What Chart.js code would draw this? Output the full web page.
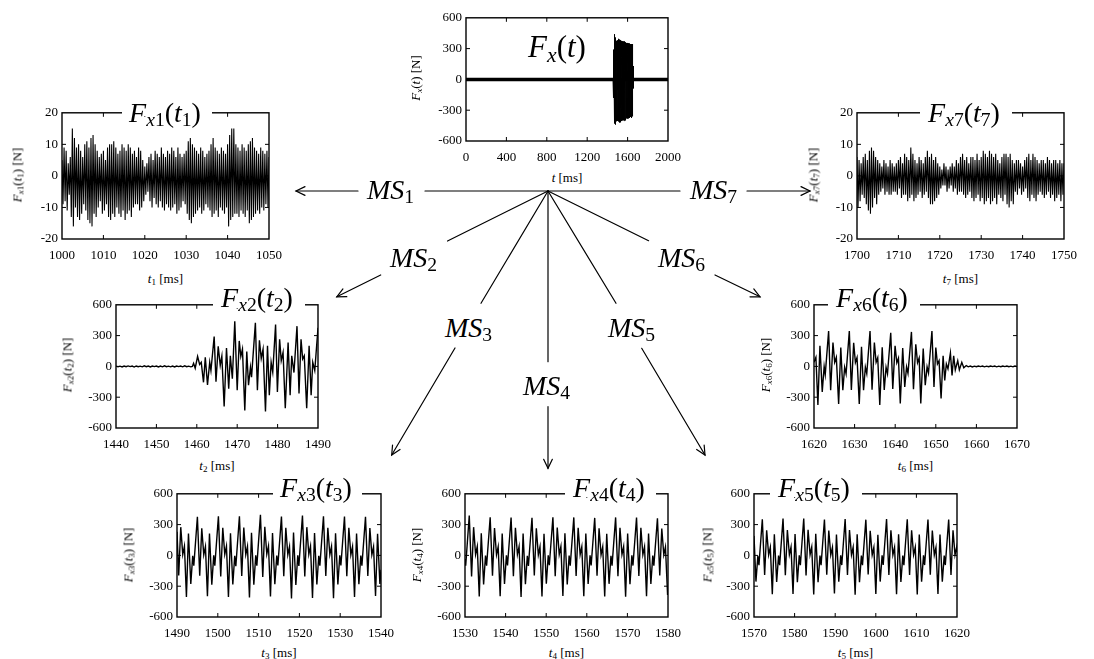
<!DOCTYPE html>
<html><head><meta charset="utf-8">
<script src="https://cdn.jsdelivr.net/npm/chart.js@4.4.1/dist/chart.umd.min.js"></script>
<style>
html,body{margin:0;padding:0;background:#fff;font-family:'Liberation Serif',serif;}
#wrap{position:relative;width:1094px;height:659px;overflow:hidden;background:#fff;font-family:'Liberation Serif',serif;color:#000;}
#wrap canvas{position:absolute;}
.lab{position:absolute;white-space:nowrap;line-height:1;font-family:'Liberation Serif',serif;}
.lab i{font-family:'Liberation Serif',serif;font-style:italic;}
.lab sub{font-size:0.7em;vertical-align:baseline;position:relative;top:0.25em;line-height:0;}
.ax{font-size:13px;transform:translate(-50%,-50%);}
.ay{font-size:13px;transform:translate(-50%,-50%) rotate(-90deg);}
.big{transform:translateX(-50%);}
.gap{position:absolute;background:#fff;}
svg{position:absolute;left:0;top:0;}
</style>
</head><body>
<div id="wrap"></div>
<script>
// ---------------- data ----------------
const fx1Start = 1000, fx1Step = 0.25;
const fx1 = [
5,-9,9,-8, 8,-11,4,-6, 6,-13,15,-16, 12,-10,9,-13, 10,-14,8,-12,
6,-9,10,-11, 11,-14,9,-15, 12,-16,13,-12, 10,-13,8,-10, 6,-8,7,-12,
8,-11,5,-9, 9,-13,10,-14, 10,-12,11,-13, 9,-10,7,-12, 8,-13,10,-11,
9,-14,8,-12, 10,-11,9,-13, 7,-10,8,-9, 6,-9,9,-11, 8,-10,5,-8,
3,-6,4,-5, 6,-8,7,-10, 5,-7,8,-9, 7,-10,6,-8, 9,-10,7,-11,
6,-9,8,-10, 7,-11,9,-10, 8,-9,6,-12, 9,-11,7,-10, 6,-8,7,-9,
8,-12,11,-14, 12,-15,10,-13, 9,-12,8,-11, 7,-10,9,-12, 8,-11,6,-9,
7,-10,8,-11, 10,-13,12,-12, 9,-11,8,-13, 7,-10,9,-11, 8,-12,7,-10,
10,-16,13,-14, 15,-13,15,-12, 10,-12,9,-13, 8,-11,10,-12, 9,-13,8,-11,
10,-15,11,-14, 12,-13,9,-12, 8,-11,7,-12, 9,-10,8,-11, 7,-9,8,-10,
6];
const fx7Start = 1700, fx7Step = 0.25;
const fx7 = [
6,-10,5,-8, 4,-6,6,-7, 7,-9,5,-11, 8,-12,9,-10, 8,-7,6,-9,
5,-6,4,-5, 3,-4,5,-6, 4,-5,3,-6, 5,-6,4,-5, 3,-5,4,-6,
5,-4,6,-7, 4,-6,7,-6, 6,-8,5,-7, 9,-6,7,-8, 5,-7,4,-6,
6,-5,5,-7, 4,-6,6,-5, 8,-7,6,-9, 7,-9,5,-8, 6,-7,4,-6,
3,-4,2,-3, 4,-3,3,-5, 2,-4,3,-3, 4,-5,3,-4, 5,-6,4,-5,
6,-5,7,-6, 5,-7,6,-6, 4,-5,6,-7, 6,-8,5,-7, 7,-6,5,-8,
6,-7,8,-9, 7,-8,6,-7, 8,-9,7,-8, 6,-7,7,-9, 5,-6,4,-7,
6,-8,7,-6, 7,-9,6,-10, 7,-8,5,-9, 4,-5,5,-6, 5,-4,4,-6,
3,-5,5,-4, 6,-7,7,-8, 5,-6,7,-7, 6,-8,5,-6, 4,-5,5,-6,
5,-7,4,-6, 6,-5,5,-7, 4,-6,5,-8, 5,-7,4,-6, 5,-8,4,-6,
4];
const fx2 = [
[1440,3],[1440.5,-4],[1441,2],[1441.5,-5],[1442,4],[1442.5,-3],[1443,5],[1443.5,-2],[1444,3],[1444.5,-6],
[1445,4],[1445.5,-3],[1446,2],[1446.5,-4],[1447,5],[1447.5,-3],[1448,4],[1448.5,-5],[1449,3],[1449.5,-2],
[1450,4],[1450.5,-5],[1451,3],[1451.5,-4],[1452,6],[1452.5,-3],[1453,2],[1453.5,-4],[1454,3],[1454.5,-5],
[1455,4],[1455.5,-2],[1456,3],[1456.5,-4],[1457,5],[1457.5,-3],[1458,2],[1458.5,-4],
[1458.9,0],[1459.2,30],[1459.6,-18],[1460.2,98],[1460.7,20],[1461.1,40],[1461.66,-155],[1462.1,88],[1462.65,-180],[1463.2,40],[1463.5,-40],
[1464.3,290],[1464.75,-150],[1465.3,195],[1465.8,10],[1466.2,100],[1466.77,-390],[1467.35,180],[1467.9,-218],[1468.3,104],[1468.8,-120],
[1469.4,440],[1470.0,-232],[1470.5,248],[1470.9,98],[1471.3,168],[1471.88,-430],[1472.37,145],[1472.8,-184],[1473.28,-8],[1473.55,-104],
[1474.5,424],[1475.0,-232],[1475.5,254],[1475.95,78],[1476.4,168],[1477.0,-440],[1477.5,200],[1477.95,-280],[1478.4,40],[1478.8,-56],
[1479.5,408],[1479.95,-248],[1480.5,264],[1480.9,56],[1481.35,136],[1481.9,-408],[1482.6,232],[1483.1,-280],[1483.5,104],[1484.05,-60],
[1484.8,392],[1485.3,-264],[1485.8,264],[1486.2,72],[1486.6,104],[1487.2,-408],[1487.8,200],[1488.3,-280],[1488.7,40],[1489.2,-40],
[1490.0,376]];
const fx3 = [
[1490.0,230],[1490.42,-196],[1490.92,275],[1491.41,8],[1491.82,90],[1492.31,-404],[1492.81,212],[1493.38,-278],[1493.85,-5],[1494.12,-100],
[1495.0,376],[1495.57,-199],[1496.07,265],[1496.56,5],[1496.97,85],[1497.46,-398],[1497.96,212],[1498.53,-286],[1499.0,0],[1499.27,-100],
[1500.15,380],[1500.72,-205],[1501.22,270],[1501.71,10],[1502.12,90],[1502.61,-405],[1503.11,215],[1503.68,-282],[1504.15,-3],[1504.42,-105],
[1505.3,382],[1505.87,-200],[1506.37,272],[1506.86,8],[1507.27,88],[1507.76,-410],[1508.26,220],[1508.83,-285],[1509.3,0],[1509.57,-100],
[1510.45,395],[1511.02,-210],[1511.52,278],[1512.01,12],[1512.42,92],[1512.91,-400],[1513.41,218],[1513.98,-280],[1514.45,-2],[1514.72,-98],
[1515.6,378],[1516.17,-202],[1516.67,268],[1517.16,6],[1517.57,86],[1518.06,-420],[1518.56,222],[1519.13,-288],[1519.6,0],[1519.87,-102],
[1520.75,388],[1521.32,-206],[1521.82,275],[1522.31,10],[1522.72,90],[1523.21,-415],[1523.71,218],[1524.28,-284],[1524.75,-4],[1525.02,-100],
[1525.9,382],[1526.47,-200],[1526.97,270],[1527.46,8],[1527.87,88],[1528.36,-418],[1528.86,216],[1529.43,-282],[1529.9,0],[1530.17,-98],
[1531.05,378],[1531.62,-204],[1532.12,268],[1532.61,6],[1533.02,86],[1533.51,-405],[1534.01,214],[1534.58,-280],[1535.05,-2],[1535.32,-100],
[1536.2,375],[1536.77,-200],[1537.27,266],[1537.76,6],[1538.17,84],[1538.66,-395],[1539.16,210],[1539.73,-278],[1540.0,-140]];
const fx4 = [
[1530.0,-35],[1530.17,-100],
[1531.05,388],[1531.62,-205],[1532.12,275],[1532.61,10],[1533.02,88],[1533.51,-400],[1534.01,215],[1534.58,-282],[1535.05,-2],[1535.32,-100],
[1536.2,372],[1536.77,-198],[1537.27,266],[1537.76,6],[1538.17,85],[1538.66,-398],[1539.16,212],[1539.73,-278],[1540.2,0],[1540.47,-98],
[1541.35,368],[1541.92,-202],[1542.42,270],[1542.91,8],[1543.32,86],[1543.81,-405],[1544.31,214],[1544.88,-280],[1545.35,-4],[1545.62,-102],
[1546.5,366],[1547.07,-196],[1547.57,264],[1548.06,5],[1548.47,84],[1548.96,-400],[1549.46,210],[1550.03,-276],[1550.5,0],[1550.77,-96],
[1551.65,372],[1552.22,-204],[1552.72,272],[1553.21,9],[1553.62,87],[1554.11,-395],[1554.61,216],[1555.18,-282],[1555.65,-2],[1555.92,-100],
[1556.8,370],[1557.37,-200],[1557.87,268],[1558.36,6],[1558.77,85],[1559.26,-398],[1559.76,212],[1560.33,-279],[1560.8,0],[1561.07,-98],
[1561.95,365],[1562.52,-198],[1563.02,265],[1563.51,5],[1563.92,84],[1564.41,-400],[1564.91,210],[1565.48,-277],[1565.95,-3],[1566.22,-100],
[1567.1,370],[1567.67,-202],[1568.17,270],[1568.66,8],[1569.07,86],[1569.56,-402],[1570.06,214],[1570.63,-281],[1571.1,0],[1571.37,-99],
[1572.25,368],[1572.82,-200],[1573.32,268],[1573.81,6],[1574.22,85],[1574.71,-398],[1575.21,212],[1575.78,-279],[1576.25,-2],[1576.52,-100],
[1577.4,362],[1577.97,-196],[1578.47,262],[1578.96,5],[1579.37,82],[1579.9,-385],[1580.0,-300]];
const fx5 = [
[1570.0,190],[1570.48,-255],[1570.95,-5],[1571.22,-95],
[1572.05,352],[1572.62,-190],[1573.12,245],[1573.61,5],[1574.02,80],[1574.51,-378],[1575.01,205],[1575.58,-258],[1576.05,-2],[1576.32,-95],
[1577.15,358],[1577.72,-192],[1578.22,248],[1578.71,6],[1579.12,82],[1579.61,-375],[1580.11,208],[1580.68,-260],[1581.15,0],[1581.42,-96],
[1582.25,360],[1582.82,-195],[1583.32,250],[1583.81,7],[1584.22,82],[1584.71,-380],[1585.21,210],[1585.78,-262],[1586.25,-2],[1586.52,-95],
[1587.35,350],[1587.92,-188],[1588.42,242],[1588.91,4],[1589.32,78],[1589.81,-372],[1590.31,204],[1590.88,-256],[1591.35,0],[1591.62,-94],
[1592.45,355],[1593.02,-190],[1593.52,246],[1594.01,5],[1594.42,80],[1594.91,-382],[1595.41,206],[1595.98,-260],[1596.45,-1],[1596.72,-95],
[1597.55,348],[1598.12,-186],[1598.62,240],[1599.11,4],[1599.52,78],[1600.01,-375],[1600.51,202],[1601.08,-255],[1601.55,0],[1601.82,-93],
[1602.65,355],[1603.22,-190],[1603.72,245],[1604.21,5],[1604.62,80],[1605.11,-378],[1605.61,205],[1606.18,-258],[1606.65,-2],[1606.92,-95],
[1607.75,352],[1608.32,-190],[1608.82,244],[1609.31,5],[1609.72,79],[1610.21,-380],[1610.71,204],[1611.28,-257],[1611.75,0],[1612.02,-94],
[1612.85,350],[1613.42,-188],[1613.92,242],[1614.41,4],[1614.82,78],[1615.31,-376],[1615.81,203],[1616.38,-256],[1616.85,-1],[1617.12,-94],
[1617.95,350],[1618.52,-190],[1619.02,245],[1619.51,5],[1619.92,80],[1620.0,30]];
const fx6 = [
[1620.0,40],[1620.47,88],[1620.96,-376],[1621.46,200],[1622.03,-248],[1622.5,0],[1622.77,-80],
[1623.6,344],[1624.1,-232],[1624.67,232],[1625.1,40],[1625.5,88],[1626.07,-366],[1626.6,184],[1627.1,-232],[1627.55,-8],[1627.9,-72],
[1628.7,344],[1629.2,-230],[1629.77,230],[1630.2,38],[1630.6,86],[1631.15,-366],[1631.7,190],[1632.2,-232],[1632.65,-6],[1633.0,-70],
[1633.8,344],[1634.3,-228],[1634.87,232],[1635.3,40],[1635.7,85],[1636.2,-376],[1636.8,186],[1637.3,-230],[1637.75,-8],[1638.1,-72],
[1638.9,328],[1639.4,-220],[1639.97,200],[1640.4,35],[1640.8,80],[1641.25,-360],[1641.85,180],[1642.35,-200],[1642.8,-5],[1643.15,-68],
[1644.0,336],[1644.5,-222],[1645.07,216],[1645.5,36],[1645.9,82],[1646.3,-360],[1646.9,175],[1647.4,-184],[1647.85,-4],[1648.2,-64],
[1649.05,344],[1649.55,-200],[1650.0,184],[1650.4,24],[1650.8,56],[1651.3,-312],[1651.8,104],[1652.2,-136],[1652.6,24],[1653.0,-24],
[1653.6,130],[1654.0,-88],[1654.4,104],[1654.8,-34],[1655.4,56],[1655.8,-34],[1656.4,40],[1656.9,-14],[1657.5,8],
[1658,-4],[1658.5,3],[1659,-5],[1659.5,2],[1660,-3],[1660.5,4],[1661,-2],[1661.5,3],[1662,-4],[1662.5,2],
[1663,-3],[1663.5,4],[1664,-2],[1664.5,3],[1665,-4],[1665.5,2],[1666,-3],[1666.5,3],[1667,-2],[1667.5,4],
[1668,-3],[1668.5,2],[1669,-4],[1669.5,3],[1670,-2]];
const fxBaseT = [0, 2000];
const fxBaseF = [0, 0];

const xTop = [0, 2000, 400], yBig = [-600, 600, 300], ySmall = [-20, 20, 10];
const x1R = [1000, 1050, 10], x2R = [1440, 1490, 10], x3R = [1490, 1540, 10], x4R = [1530, 1580, 10],
      x5R = [1570, 1620, 10], x6R = [1620, 1670, 10], x7R = [1700, 1750, 10];

// ---------------- helpers ----------------
const pairs = a => a.map(p => ({x: p[0], y: p[1]}));
const uniform = (start, step, vals) => vals.map((v, i) => ({x: start + i * step, y: v}));
const burst = [];
function addSeg(src, from, to) { src.forEach(p => { if (p[0] > from && p[0] <= to) burst.push({x: p[0], y: p[1]}); }); }
addSeg(fx2, 1439, 1490); addSeg(fx3, 1490, 1540); addSeg(fx4, 1540, 1580); addSeg(fx5, 1580, 1620); addSeg(fx6, 1620, 1670);
const baseLine = fxBaseT.map((t, i) => ({x: t, y: fxBaseF[i]}));

const wrap = document.getElementById('wrap');
const FONT = "'Liberation Serif', serif";
Chart.defaults.font.family = FONT;
const padL = 50, padT = 10, padR = 32, padB = 26;

const framePlugin = {
  id: 'frame',
  afterDraw(chart) {
    const {ctx, chartArea: a} = chart;
    const xs = chart.scales.x, ys = chart.scales.y;
    ctx.save();
    ctx.strokeStyle = '#000';
    ctx.lineWidth = 1.4;
    ctx.strokeRect(a.left, a.top, a.right - a.left, a.bottom - a.top);
    ctx.lineWidth = 1;
    const tl = 4;
    ctx.beginPath();
    xs.ticks.forEach(t => {
      const px = xs.getPixelForValue(t.value);
      if (px <= a.left + 1 || px >= a.right - 1) return;
      ctx.moveTo(px, a.bottom); ctx.lineTo(px, a.bottom - tl);
      ctx.moveTo(px, a.top); ctx.lineTo(px, a.top + tl);
    });
    ys.ticks.forEach(t => {
      const py = ys.getPixelForValue(t.value);
      if (py <= a.top + 1 || py >= a.bottom - 1) return;
      ctx.moveTo(a.left, py); ctx.lineTo(a.left + tl, py);
      ctx.moveTo(a.right, py); ctx.lineTo(a.right - tl, py);
    });
    ctx.stroke();
    ctx.restore();
  }
};

function panel(L, T, W, H, xr, yr, sets) {
  const c = document.createElement('canvas');
  c.width = W + padL + padR; c.height = H + padT + padB;
  c.style.left = (L - padL) + 'px'; c.style.top = (T - padT) + 'px';
  wrap.appendChild(c);
  new Chart(c, {
    type: 'line',
    data: {datasets: sets.map(s => ({data: s.d, borderColor: '#000', borderWidth: s.w, pointRadius: 0, tension: 0, fill: false}))},
    options: {
      responsive: false, animation: false, devicePixelRatio: 1, events: [],
      layout: {padding: {left: 0, top: padT, right: padR, bottom: 0}},
      plugins: {legend: {display: false}, tooltip: {enabled: false}},
      scales: {
        x: {type: 'linear', min: xr[0], max: xr[1],
            ticks: {stepSize: xr[2], autoSkip: false, maxRotation: 0, padding: 9, color: '#000', font: {family: FONT, size: 13}, callback: v => String(v)},
            grid: {display: false, drawTicks: false}, border: {display: false},
            afterFit: s => { s.height = padB; }},
        y: {type: 'linear', min: yr[0], max: yr[1],
            ticks: {stepSize: yr[2], autoSkip: false, padding: 4, color: '#000', font: {family: FONT, size: 13}, callback: v => String(v)},
            grid: {display: false, drawTicks: false}, border: {display: false},
            afterFit: s => { s.width = padL; }}
      }
    },
    plugins: [framePlugin]
  });
}

panel(466, 16, 202, 125, xTop, yBig, [{d: baseLine, w: 3.5}, {d: burst, w: 1}]);
panel(62, 111, 207, 128, x1R, ySmall, [{d: uniform(fx1Start, fx1Step, fx1), w: 1.1}]);
panel(857, 111, 207, 128, x7R, ySmall, [{d: uniform(fx7Start, fx7Step, fx7), w: 1.1}]);
panel(116, 303, 202, 125, x2R, yBig, [{d: pairs(fx2), w: 1.4}]);
panel(814, 303, 203, 125, x6R, yBig, [{d: pairs(fx6), w: 1.4}]);
panel(177, 492, 204, 125, x3R, yBig, [{d: pairs(fx3), w: 1.4}]);
panel(465, 492, 203, 125, x4R, yBig, [{d: pairs(fx4), w: 1.4}]);
panel(754, 492, 203, 125, x5R, yBig, [{d: pairs(fx5), w: 1.4}]);

// ---------------- labels ----------------
function add(cls, html, x, y, extra) {
  const d = document.createElement('div');
  d.className = 'lab ' + cls; d.innerHTML = html;
  d.style.left = x + 'px'; d.style.top = y + 'px';
  if (extra) Object.assign(d.style, extra);
  wrap.appendChild(d); return d;
}
function gap(l, r, top) {
  const d = document.createElement('div'); d.className = 'gap';
  Object.assign(d.style, {left: l + 'px', width: (r - l) + 'px', top: (top - 3) + 'px', height: '8px'});
  wrap.appendChild(d);
}
const Fsub = n => '<i>F</i><sub><i>x</i>' + n + '</sub>(<i>t</i><sub>' + n + '</sub>)';
add('ax', '<i>t</i> [ms]', 567, 177);
[[1,165.5,278],[7,960.5,278],[2,217,465],[6,915.5,465],[3,279,652],[4,566.5,652],[5,855.5,652]].forEach(a =>
  add('ax', '<i>t</i><sub>' + a[0] + '</sub> [ms]', a[1], a[2]));
add('ay', '<i>F</i><sub><i>x</i></sub>(<i>t</i>) [N]', 415, 78);
[[1,17,175],[7,813,175],[2,67,365],[6,765,365],[3,128,555],[4,416,555],[5,707,555]].forEach(a =>
  add('ay', Fsub(a[0]) + ' [N]', a[1], a[2]));
const bigFs = 28;
add('big', '<i>F</i><sub><i>x</i></sub>(<i>t</i>)', 557, 57 - 0.8375 * 31, {fontSize: '31px'});
[[1,165,122,122,212,111],[7,964,122,920,1012,111],[2,257,307,213,305,303],[6,872,307,828,920,303],
 [3,316,497,273,362,492],[4,609,497,565,656,492],[5,814,497,770,862,492]].forEach(a => {
  gap(a[3], a[4], a[5]);
  add('big', Fsub(a[0]), a[1], a[2] - 0.8375 * bigFs, {fontSize: bigFs + 'px'});
});
const msFs = 28;
[[1,367,199],[7,690,199],[2,390,267],[6,658,267],[3,445,337],[5,608,337],[4,523,395]].forEach(a =>
  add('', '<i>MS</i><sub>' + a[0] + '</sub>', a[1], a[2] - 0.8375 * msFs, {fontSize: msFs + 'px'}));

// ---------------- arrows ----------------
const cx = 548, cy = 191;
const segs = [
  [cx, cy, 425, cy, 0], [358, cy, 296, cy, 1],
  [cx, cy, 680, cy, 0], [747, cy, 810, cy, 1],
  [cx, cy, 447.5, 241, 0], [380.7, 275, 336.8, 296.8, 1],
  [cx, cy, 648.6, 240.7, 0], [715, 275, 760, 296.8, 1],
  [cx, cy, 481, 303.3, 0], [455, 348, 391.7, 455, 1],
  [cx, cy, 548, 361.7, 0], [548, 406.7, 548, 468.3, 1],
  [cx, cy, 616, 303.3, 0], [641.7, 348.3, 705, 455, 1]
];
let svg = '<svg width="1094" height="659" xmlns="http://www.w3.org/2000/svg"><g stroke="#000" stroke-width="1.2" fill="none" stroke-linecap="round">';
segs.forEach(s => {
  svg += `<line x1="${s[0]}" y1="${s[1]}" x2="${s[2]}" y2="${s[3]}"/>`;
  if (s[4]) {
    const dx = s[2] - s[0], dy = s[3] - s[1], len = Math.hypot(dx, dy), ux = dx / len, uy = dy / len;
    const L = 10, ang = 0.45;
    const w = a => [s[2] - L * (ux * Math.cos(a) - uy * Math.sin(a)), s[3] - L * (uy * Math.cos(a) + ux * Math.sin(a))];
    const p1 = w(ang), p2 = w(-ang);
    svg += `<polyline points="${p1[0]},${p1[1]} ${s[2]},${s[3]} ${p2[0]},${p2[1]}"/>`;
  }
});
svg += '</g></svg>';
wrap.insertAdjacentHTML('beforeend', svg);
</script>
</body></html>
